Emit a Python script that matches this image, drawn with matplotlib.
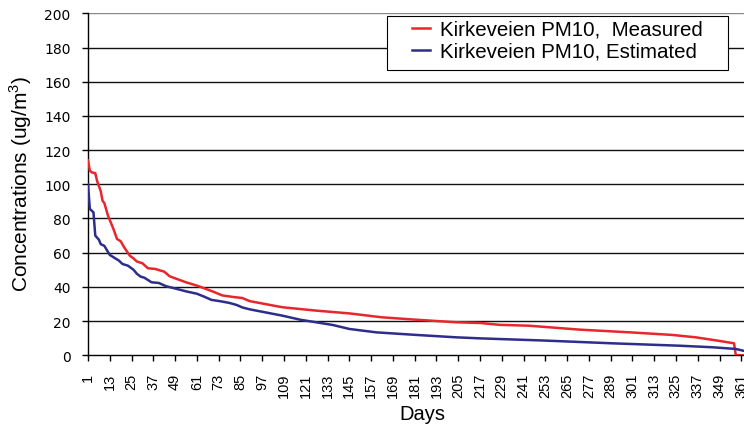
import numpy as np
import matplotlib
matplotlib.use("Agg")
import matplotlib.pyplot as plt
from matplotlib.patches import Rectangle

plt.rcParams['font.family'] = ['Liberation Sans', 'DejaVu Sans']
plt.rcParams['mathtext.fontset'] = 'custom'
plt.rcParams['mathtext.rm'] = 'Liberation Sans'

# duration curves (values sorted high to low), read as (day, ug/m3)
measured_days = [1, 2, 3, 5, 6, 8, 9, 10, 12, 15, 17, 19, 21, 24, 26, 28, 31, 34,
                 38, 43, 46, 50, 55, 62, 70, 75, 81, 86, 90, 108, 127, 145, 163,
                 182, 204, 217, 228, 244, 272, 300, 323, 336, 349, 357, 358, 362]
measured = [114, 108, 107, 106.5, 102, 96, 90.4, 89, 81.7, 73.9, 68, 66.7, 63, 58.3,
            56.7, 54.8, 53.8, 50.9, 50.5, 48.9, 46.2, 44.6, 42.7, 40.4, 37.2, 35,
            34.1, 33.5, 31.7, 28.1, 26.1, 24.5, 22.2, 20.8, 19.3, 18.9, 17.8, 17.3,
            15, 13.4, 11.9, 10.5, 8.4, 7, 0, 0]

estimated_days = [1, 2, 4, 5, 7, 8, 10, 11, 13, 16, 18, 20, 23, 26, 28, 30, 32, 36,
                  40, 44, 50, 55, 61, 65, 69, 74, 79, 83, 86, 90, 108, 118, 136,
                  145, 160, 182, 204, 217, 228, 253, 290, 327, 345, 358, 362]
estimated = [100, 85.6, 83.6, 70, 67.6, 65, 64, 62.2, 58.7, 56.7, 55.4, 53.4, 52.4,
             50.1, 47.6, 46, 45.4, 42.7, 42.3, 40.4, 38.8, 37.4, 36, 34.3, 32.4,
             31.6, 30.6, 29.4, 28, 26.9, 23.2, 20.8, 17.7, 15.4, 13.4, 11.9, 10.5,
             9.9, 9.5, 8.6, 7, 5.6, 4.7, 3.7, 2.7]

x_ticks = list(range(1, 362, 12))
y_ticks = list(range(0, 201, 20))

W, H = 744, 427
fig = plt.figure(figsize=(W / 100, H / 100), dpi=100)
ax = fig.add_axes([0.1183, 0.1656, 0.8817, 0.8009])

ax.plot(measured_days, measured, color='#e8262b', lw=1.8,
        label='Kirkeveien PM10,  Measured', zorder=3)
ax.plot(estimated_days, estimated, color='#2d2d8c', lw=1.8,
        label='Kirkeveien PM10, Estimated', zorder=3)

ax.set_xlim(1, 362.5)
ax.set_ylim(0, 200)
ax.set_yticks(y_ticks)
ax.set_xticks(x_ticks)
ax.set_xticklabels([str(t) for t in x_ticks], rotation=90, fontsize=10.5)
ax.set_yticklabels([str(t) for t in y_ticks], fontsize=10, family='DejaVu Sans')
ax.tick_params(axis='both', direction='out', length=4.5, width=1,
               color='black', pad=8)
for y in y_ticks[1:]:
    ax.axhline(y, color='#111111' if y < 200 else '#888888', lw=1, zorder=1)

for side in ['top', 'right']:
    ax.spines[side].set_visible(False)
ax.spines['left'].set_linewidth(1)
ax.spines['bottom'].set_linewidth(1)

ax.set_xlabel('Days', fontsize=14.5)
ax.xaxis.set_label_coords(0.51, -0.142)
fig.text(21 / W, 0.57, r'Concentrations (ug/m$^{\mathrm{3}}$)', fontsize=15,
         rotation=90, ha='center', va='center')

# legend box drawn separately so the padding can be wider than tall
box = Rectangle((386.7 / W, 1 - 71 / H), 341 / W, 54.3 / H,
                transform=fig.transFigure, facecolor='white',
                edgecolor='black', lw=0.8, zorder=4, clip_on=False)
ax.add_patch(box)
leg = ax.legend(loc='upper left', bbox_to_anchor=(411.7 / W, 1 - 21 / H),
                bbox_transform=fig.transFigure, borderaxespad=0, borderpad=0,
                fontsize=14.8, frameon=False, handlelength=0.9,
                handletextpad=0.5, labelspacing=0.14)
leg.set_zorder(5)
for line in leg.get_lines():
    line.set_linewidth(1.8)

fig.savefig('out.png', dpi=100)
